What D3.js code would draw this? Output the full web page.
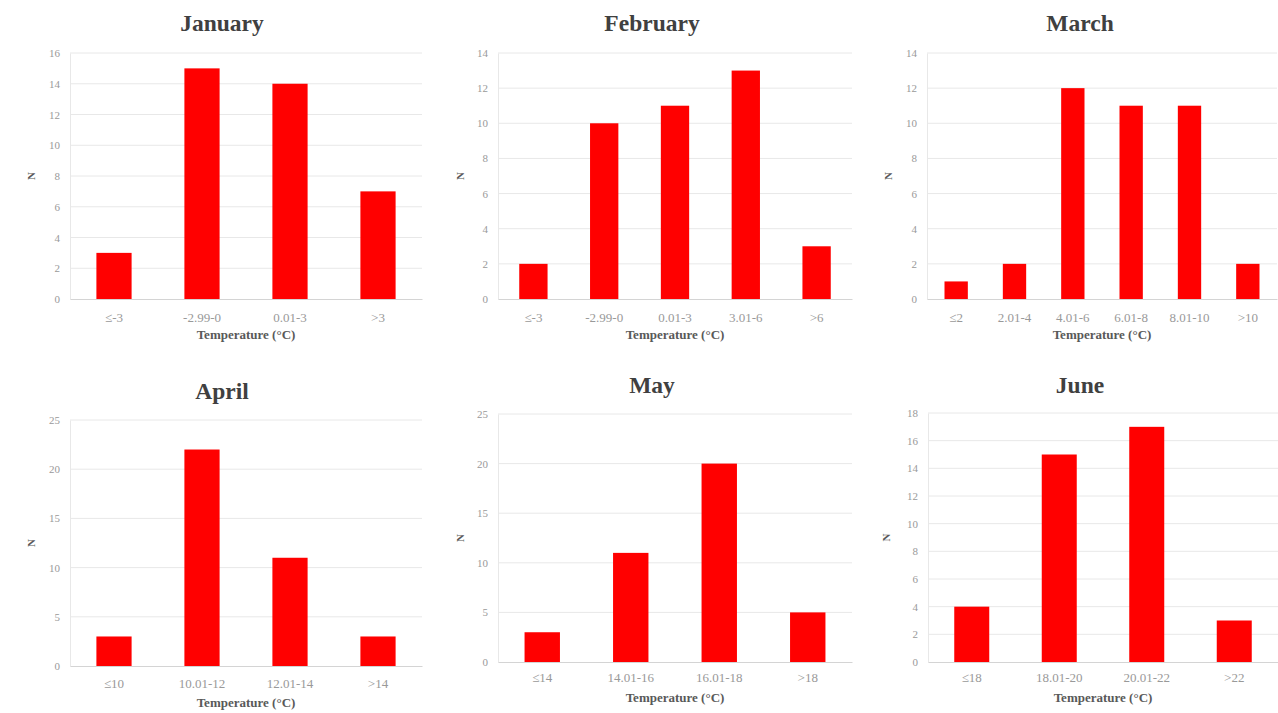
<!DOCTYPE html>
<html>
<head>
<meta charset="utf-8">
<script src="https://cdn.jsdelivr.net/npm/d3@7"></script>
<style>
  html, body { margin: 0; padding: 0; background: #fff; }
  svg { display: block; }
</style>
</head>
<body>
<svg id="chart" width="1278" height="713"></svg>
<script>
// ---- Data ----
const months = ["January", "February", "March", "April", "May", "June"];

const janCategories = ["\u2264-3", "-2.99-0", "0.01-3", ">3"];
const janValues = [3, 15, 14, 7];

const febCategories = ["\u2264-3", "-2.99-0", "0.01-3", "3.01-6", ">6"];
const febValues = [2, 10, 11, 13, 3];

const marCategories = ["\u22642", "2.01-4", "4.01-6", "6.01-8", "8.01-10", ">10"];
const marValues = [1, 2, 12, 11, 11, 2];

const aprCategories = ["\u226410", "10.01-12", "12.01-14", ">14"];
const aprValues = [3, 22, 11, 3];

const mayCategories = ["\u226414", "14.01-16", "16.01-18", ">18"];
const mayValues = [3, 11, 20, 5];

const junCategories = ["\u226418", "18.01-20", "20.01-22", ">22"];
const junValues = [4, 15, 17, 3];

const yMax = [16, 14, 14, 25, 25, 18];
const yStep = [2, 2, 2, 5, 5, 2];

const xTitle = "Temperature (\u00b0C)";
const yTitle = "N";

const categoriesList = [janCategories, febCategories, marCategories, aprCategories, mayCategories, junCategories];
const valuesList = [janValues, febValues, marValues, aprValues, mayValues, junValues];

// ---- Layout (pixel positions per panel) ----
const panels = [
  { x0: 70,  x1: 422,  yTop: 53,  yBot: 299, titleX: 222,  titleY: 31,  nX: 35,  catY: 318, xtY: 339 },
  { x0: 498, x1: 852,  yTop: 53,  yBot: 299, titleX: 652,  titleY: 31,  nX: 464, catY: 318, xtY: 339 },
  { x0: 927, x1: 1277, yTop: 53,  yBot: 299, titleX: 1080, titleY: 31,  nX: 892, catY: 318, xtY: 339 },
  { x0: 70,  x1: 422,  yTop: 420, yBot: 666, titleX: 222,  titleY: 399, nX: 35,  catY: 684, xtY: 707 },
  { x0: 498, x1: 852,  yTop: 414, yBot: 662, titleX: 652,  titleY: 393, nX: 464, catY: 678, xtY: 702 },
  { x0: 928, x1: 1278, yTop: 413, yBot: 662, titleX: 1080, titleY: 393, nX: 890, catY: 678, xtY: 702 }
];

const svg = d3.select("#chart");
const serif = "'Liberation Serif', 'Times New Roman', serif";

panels.forEach((p, i) => {
  const cats = categoriesList[i];
  const vals = valuesList[i];
  const g = svg.append("g");

  const x = d3.scaleBand().domain(cats).range([p.x0, p.x1]).paddingInner(0.6).paddingOuter(0.3);
  const y = d3.scaleLinear().domain([0, yMax[i]]).range([p.yBot, p.yTop]);
  const ticks = d3.range(0, yMax[i] + 0.001, yStep[i]);

  // gridlines
  g.append("g")
    .selectAll("line")
    .data(ticks.filter(t => t > 0))
    .join("line")
    .attr("x1", p.x0).attr("x2", p.x1)
    .attr("y1", d => y(d)).attr("y2", d => y(d))
    .attr("stroke", "#e8e8e8").attr("stroke-width", 1);

  // y axis
  const yAxis = d3.axisLeft(y).tickValues(ticks).tickSize(0).tickPadding(10).tickFormat(d3.format("d"));
  const ya = g.append("g").attr("transform", `translate(${p.x0},0)`).call(yAxis);
  ya.select(".domain").attr("stroke", "#e8e8e8");
  ya.selectAll("text").attr("font-family", serif).attr("font-size", 11).attr("fill", "#999999");

  // bars
  g.append("g")
    .selectAll("rect")
    .data(vals)
    .join("rect")
    .attr("x", (d, j) => x(cats[j]))
    .attr("width", x.bandwidth())
    .attr("y", d => y(d))
    .attr("height", d => y(0) - y(d))
    .attr("fill", "#ff0000");

  // x axis
  const xAxis = d3.axisBottom(x).tickSize(0).tickPadding(0);
  const xa = g.append("g").attr("transform", `translate(0,${p.yBot})`).call(xAxis);
  xa.select(".domain").attr("stroke", "#d4d4d4");
  xa.selectAll("text")
    .attr("y", p.catY - p.yBot)
    .attr("dy", "0.32em")
    .attr("font-family", serif).attr("font-size", 13).attr("fill", "#999999");

  // titles
  g.append("text")
    .attr("x", p.titleX).attr("y", p.titleY)
    .attr("text-anchor", "middle")
    .attr("font-family", serif).attr("font-weight", "bold").attr("font-size", 23.5)
    .attr("fill", "#404040")
    .text(months[i]);

  g.append("text")
    .attr("x", (p.x0 + p.x1) / 2).attr("y", p.xtY)
    .attr("text-anchor", "middle")
    .attr("font-family", serif).attr("font-weight", "bold").attr("font-size", 13)
    .attr("fill", "#595959")
    .text(xTitle);

  const ny = (p.yTop + p.yBot) / 2;
  g.append("text")
    .attr("transform", `translate(${p.nX},${ny}) rotate(-90)`)
    .attr("text-anchor", "middle")
    .attr("font-family", serif).attr("font-weight", "bold").attr("font-size", 11)
    .attr("fill", "#595959")
    .text(yTitle);
});
</script>
</body>
</html>
